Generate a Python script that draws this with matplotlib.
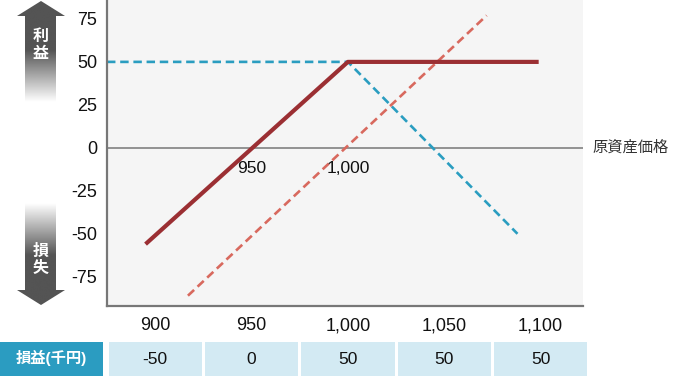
import numpy as np
import matplotlib
matplotlib.use('Agg')
import matplotlib.pyplot as plt
from matplotlib.patches import Polygon, Rectangle

plt.rcParams['font.family'] = ['Liberation Sans', 'Noto Sans CJK JP']
plt.rcParams['axes.unicode_minus'] = False

# data
pl_x = [895, 1000, 1099]          # combined position (solid)
pl_y = [-56, 50, 50]
put_x = [875, 1000, 1088]         # sold put (blue dashed)
put_y = [50, 50, -50]
fut_x = [917, 1072]               # underlying (red dashed)
fut_y = [-86, 77]
marks = [950, 1000]
mark_labels = ['950', '1,000']
prices = [900, 950, 1000, 1050, 1100]
price_labels = ['900', '950', '1,000', '1,050', '1,100']
pl_table = ['-50', '0', '50', '50', '50']
yticks = [75, 50, 25, 0, -25, -50, -75]

W, H = 685, 376
fig = plt.figure(figsize=(W / 100, H / 100), dpi=100)

# main chart
ax = fig.add_axes([107 / W, 1 - 306 / H, 476 / W, 306 / H])
ax.set_facecolor('#f5f5f5')
ax.set_xlim(875, 1122)
ax.set_ylim(-92, 86)
for s in ['top', 'right']:
    ax.spines[s].set_visible(False)
for s in ['left', 'bottom']:
    ax.spines[s].set_color('#777777')
    ax.spines[s].set_linewidth(1.6)
ax.axhline(0, color='#8a8a8a', lw=1.3, zorder=1)

ax.plot(put_x, put_y, color='#2a9dc0', lw=1.9, ls=(0, (3.2, 1.8)), zorder=2)
ax.plot(fut_x, fut_y, color='#d8695e', lw=1.9, ls=(0, (3.2, 1.8)), zorder=2)
ax.plot(pl_x, pl_y, color='#9b2f33', lw=3, solid_capstyle='butt', zorder=3)

for m, lab in zip(marks, mark_labels):
    ax.text(m, -12, lab, ha='center', va='center', fontsize=12.5, color='#111111')

ax.text(1 + 9 / 476, 0, '原資産価格', transform=ax.get_yaxis_transform(),
        ha='left', va='center', fontsize=11, color='#333333')

ax.set_xticks(prices)
ax.set_xticklabels(price_labels)
ax.set_yticks(yticks)
ax.tick_params(length=0, labelsize=13, colors='#111111')
ax.tick_params(axis='y', pad=7)
ax.tick_params(axis='x', pad=8)

# table row, sharing the x scale of the chart
tx = fig.add_axes([107 / W, 0, 476 / W, 34 / H])
tx.set_xlim(ax.get_xlim())
tx.set_ylim(0, 1)
tx.axis('off')
for p, v in zip(prices, pl_table):
    tx.add_patch(Rectangle((p - 24.2, 0), 48.4, 1, color='#d3eaf3', lw=0, clip_on=False))
    tx.text(p, 0.5, v, ha='center', va='center', fontsize=12.5, color='#111111')
tx.add_patch(Rectangle((819.4, 0), 53.5, 1, color='#2b9cc1', lw=0, clip_on=False))
tx.text(846, 0.52, '損益(千円)', ha='center', va='center', fontsize=11,
        fontweight='bold', color='white', clip_on=False)

# profit / loss arrows on the left
ov = fig.add_axes([0, 0, 1, 1])
ov.set_xlim(0, W)
ov.set_ylim(H, 0)
ov.axis('off')
ov.patch.set_alpha(0)


def grad_arrow(top, bottom, up, dark_from, dark_to):
    if up:
        pts = [(41, top), (65, top + 15), (56, top + 15), (56, bottom),
               (25, bottom), (25, top + 15), (17, top + 15)]
    else:
        pts = [(25, top), (56, top), (56, bottom - 15), (65, bottom - 15),
               (41, bottom), (17, bottom - 15), (25, bottom - 15)]
    poly = Polygon(pts, closed=True, facecolor='none', edgecolor='none')
    ov.add_patch(poly)
    ys = np.linspace(top, bottom, 200)
    t = np.clip((ys - dark_from) / (dark_to - dark_from), 0, 1)
    g = 0.33 + (1 - 0.33) * t
    img = np.repeat(g[:, None], 2, axis=1)
    im = ov.imshow(img, cmap='gray', vmin=0, vmax=1, extent=(15, 67, bottom, top),
                   aspect='auto', interpolation='bilinear')
    im.set_clip_path(poly)


grad_arrow(1, 102, True, 50, 102)
grad_arrow(203, 305, False, 255, 203)
ov.set_xlim(0, W)
ov.set_ylim(H, 0)

ov.text(41, 45, '利\n益', ha='center', va='center', fontsize=11.5, fontweight='bold',
        color='white', linespacing=1.1)
ov.text(41, 260, '損\n失', ha='center', va='center', fontsize=11.5, fontweight='bold',
        color='white', linespacing=1.1)

fig.savefig('out.png', dpi=100)
